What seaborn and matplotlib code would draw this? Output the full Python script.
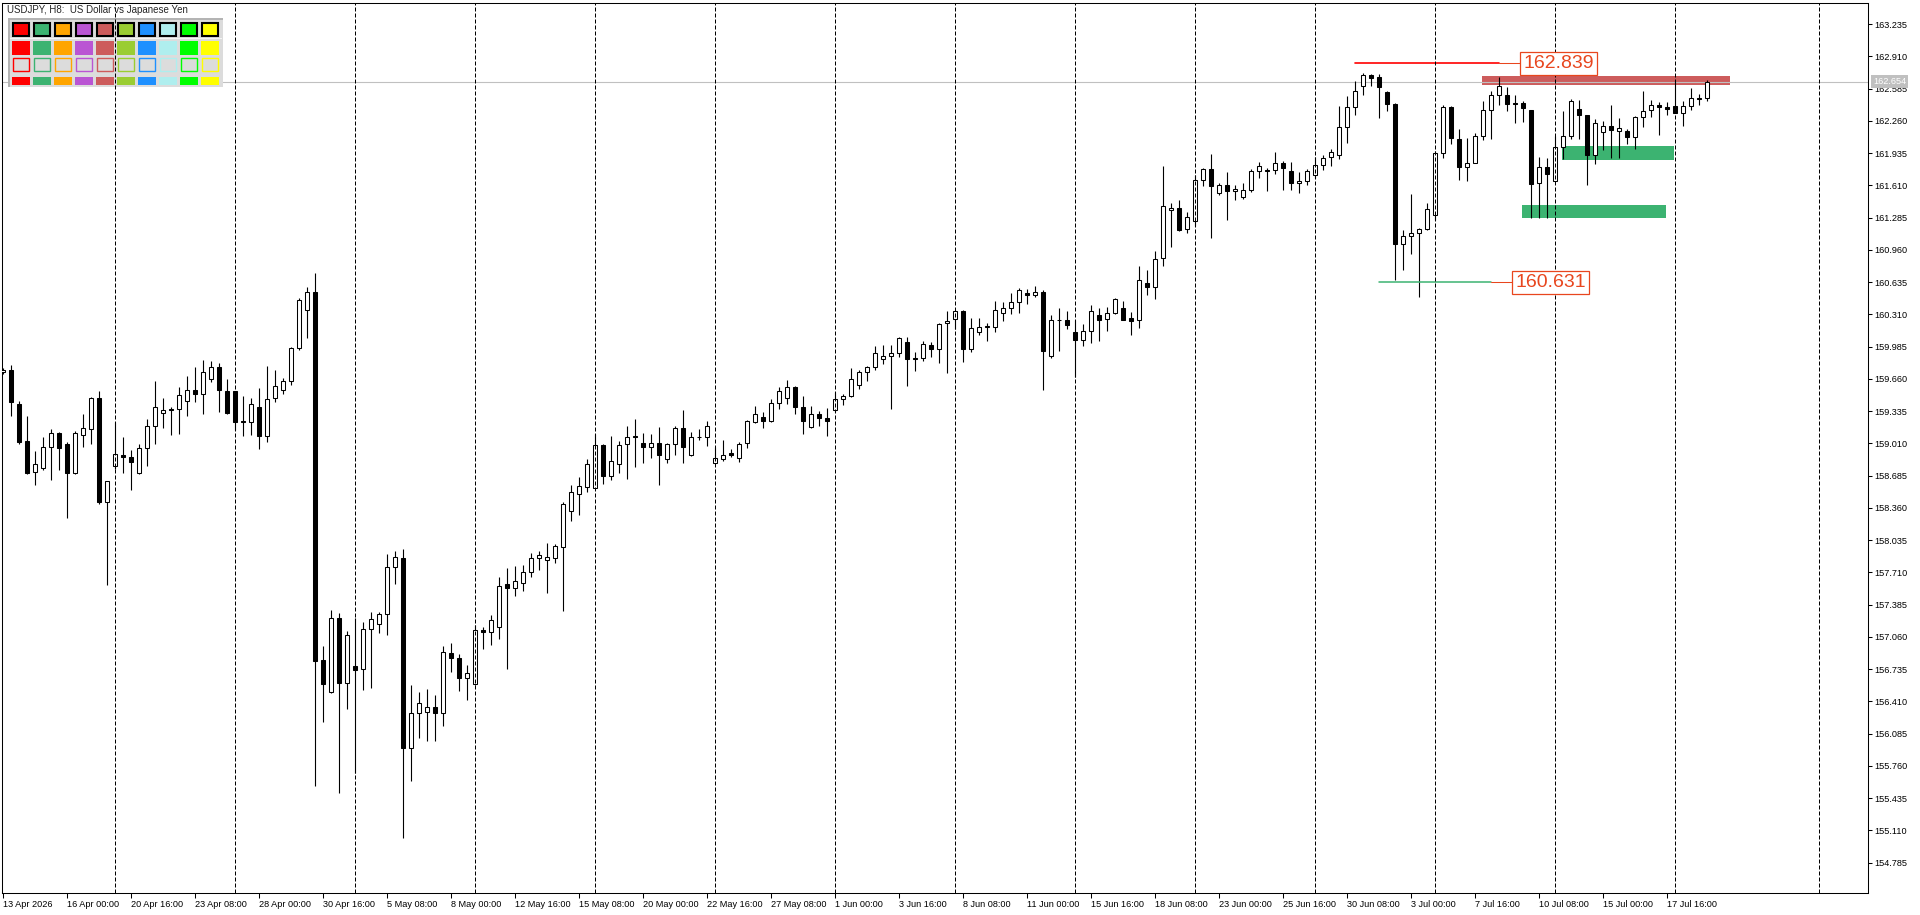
import numpy as np
import pandas as pd
import matplotlib
matplotlib.use("Agg")
import matplotlib.pyplot as plt
import matplotlib.transforms as mtransforms
from matplotlib.patches import Rectangle
import seaborn as sns

sns.set_theme(style="white")
plt.rcParams['font.family'] = ['Liberation Sans', 'DejaVu Sans']

# USDJPY H8 candles (bar 0 = 13 Apr 2026 08:00)
open_ = [159.730, 159.748, 159.404, 159.033, 158.718, 158.766, 158.978, 159.110, 159.000, 158.714,
         159.099, 159.151, 159.462, 158.414, 158.777, 158.890, 158.868, 158.714, 158.960, 159.180,
         159.312, 159.356, 159.352, 159.433, 159.547, 159.503, 159.657, 159.778, 159.536, 159.536,
         159.235, 159.220, 159.374, 159.088, 159.462, 159.543, 159.635, 159.968, 160.353, 160.536,
         156.826, 156.508, 157.247, 156.599, 156.767, 156.733, 157.136, 157.187, 157.287, 157.768,
         157.852, 155.937, 156.289, 156.299, 156.357, 156.289, 156.894, 156.844, 156.642, 156.582,
         157.126, 157.113, 157.163, 157.590, 157.556, 157.600, 157.711, 157.852, 157.832, 157.859,
         157.969, 158.332, 158.504, 158.574, 158.564, 158.991, 158.685, 158.799, 159.001, 159.082,
         159.011, 158.977, 159.011, 158.849, 159.001, 159.162, 158.896, 159.078, 159.071, 158.809,
         158.856, 158.910, 158.866, 159.011, 159.229, 159.273, 159.236, 159.414, 159.464, 159.578,
         159.373, 159.172, 159.303, 159.263, 159.347, 159.454, 159.484, 159.595, 159.726, 159.777,
         159.864, 159.888, 159.918, 160.029, 159.871, 159.867, 159.998, 159.958, 160.220, 160.261,
         160.345, 159.959, 160.127, 160.184, 160.187, 160.328, 160.372, 160.432, 160.527, 160.500,
         160.533, 159.895, 160.248, 160.254, 160.130, 160.049, 160.140, 160.305, 160.261, 160.322,
         160.372, 160.271, 160.251, 160.627, 160.590, 160.876, 161.360, 161.383, 161.168, 161.249,
         161.662, 161.773, 161.528, 161.612, 161.551, 161.491, 161.565, 161.753, 161.766, 161.763,
         161.837, 161.753, 161.629, 161.652, 161.713, 161.810, 161.894, 161.911, 162.197, 162.398,
         162.610, 162.724, 162.701, 162.549, 162.432, 161.017, 161.101, 161.128, 161.172, 161.310,
         161.935, 162.398, 162.076, 161.790, 161.834, 162.103, 162.368, 162.519, 162.519, 162.442,
         162.442, 162.368, 161.632, 161.793, 161.652, 161.995, 162.103, 162.378, 162.318, 161.914,
         162.146, 162.207, 162.156, 162.156, 162.096, 162.294, 162.368, 162.415, 162.401, 162.408,
         162.334, 162.408, 162.492, 162.485]
high = [159.770, 159.796, 159.437, 159.283, 158.934, 159.070, 159.154, 159.121, 159.019, 159.136,
        159.305, 159.481, 159.539, 158.630, 159.224, 159.074, 158.942, 159.000, 159.257, 159.638,
        159.466, 159.378, 159.580, 159.690, 159.781, 159.851, 159.840, 159.822, 159.660, 159.539,
        159.488, 159.466, 159.569, 159.789, 159.748, 159.668, 159.979, 160.470, 160.588, 160.723,
        156.966, 157.331, 157.297, 157.119, 157.247, 157.213, 157.307, 157.307, 157.892, 157.926,
        157.946, 156.575, 156.508, 156.531, 156.474, 156.968, 156.995, 156.884, 156.777, 157.180,
        157.163, 157.277, 157.660, 157.751, 157.775, 157.785, 157.902, 157.926, 158.006, 157.993,
        158.423, 158.588, 158.668, 158.853, 159.102, 159.001, 159.082, 159.038, 159.186, 159.253,
        159.112, 159.105, 159.175, 159.011, 159.185, 159.347, 159.125, 159.152, 159.236, 158.977,
        159.044, 158.953, 159.027, 159.246, 159.387, 159.326, 159.457, 159.578, 159.649, 159.589,
        159.488, 159.387, 159.337, 159.363, 159.525, 159.505, 159.773, 159.750, 159.793, 159.992,
        160.002, 160.002, 160.086, 160.079, 159.931, 160.039, 160.032, 160.224, 160.348, 160.355,
        160.355, 160.271, 160.271, 160.221, 160.446, 160.439, 160.527, 160.580, 160.567, 160.597,
        160.557, 160.305, 160.375, 160.345, 160.254, 160.214, 160.406, 160.372, 160.382, 160.476,
        160.446, 160.335, 160.799, 160.758, 160.950, 161.807, 161.430, 161.464, 161.340, 161.716,
        161.783, 161.928, 161.632, 161.746, 161.615, 161.632, 161.773, 161.847, 161.783, 161.948,
        161.857, 161.841, 161.746, 161.777, 161.894, 161.911, 161.978, 162.412, 162.513, 162.657,
        162.741, 162.734, 162.731, 162.556, 162.439, 161.162, 161.525, 161.179, 161.431, 161.951,
        162.422, 162.405, 162.177, 162.082, 162.136, 162.462, 162.556, 162.701, 162.600, 162.523,
        162.455, 162.371, 161.894, 161.884, 162.109, 162.361, 162.479, 162.472, 162.321, 162.277,
        162.261, 162.418, 162.287, 162.180, 162.304, 162.556, 162.472, 162.452, 162.452, 162.657,
        162.455, 162.590, 162.529, 162.674]
low = [159.710, 159.290, 159.008, 158.696, 158.593, 158.740, 158.645, 158.740, 158.260, 158.696,
       158.978, 159.008, 158.403, 157.585, 158.751, 158.714, 158.542, 158.696, 158.780, 159.008,
       159.165, 159.099, 159.107, 159.290, 159.429, 159.308, 159.631, 159.330, 159.301, 159.143,
       159.088, 159.099, 158.956, 159.026, 159.422, 159.510, 159.602, 159.950, 160.067, 155.562,
       156.203, 156.490, 155.490, 156.333, 155.691, 156.525, 156.548, 157.103, 157.079, 157.593,
       155.029, 155.611, 156.044, 156.014, 156.014, 156.165, 156.709, 156.515, 156.424, 156.575,
       156.938, 156.978, 157.035, 156.740, 157.472, 157.526, 157.667, 157.734, 157.506, 157.808,
       157.324, 158.231, 158.289, 158.524, 158.557, 158.601, 158.641, 158.715, 158.648, 158.776,
       158.816, 158.866, 158.591, 158.809, 158.893, 158.816, 158.886, 159.048, 158.987, 158.802,
       158.836, 158.876, 158.826, 158.964, 159.219, 159.169, 159.229, 159.357, 159.410, 159.310,
       159.108, 159.169, 159.189, 159.088, 159.330, 159.400, 159.481, 159.562, 159.642, 159.750,
       159.814, 159.360, 159.884, 159.592, 159.743, 159.844, 159.884, 159.824, 159.723, 160.166,
       159.834, 159.935, 160.103, 160.046, 160.133, 160.238, 160.318, 160.328, 160.419, 160.480,
       159.549, 159.868, 159.945, 160.160, 159.683, 159.986, 160.026, 160.046, 160.137, 160.318,
       160.248, 160.103, 160.177, 160.506, 160.466, 160.792, 160.984, 161.152, 161.125, 161.195,
       161.608, 161.074, 161.508, 161.256, 161.457, 161.474, 161.545, 161.679, 161.548, 161.719,
       161.558, 161.558, 161.531, 161.615, 161.686, 161.760, 161.800, 161.874, 162.035, 162.314,
       162.523, 162.607, 162.284, 162.355, 160.651, 160.752, 160.917, 160.480, 161.162, 161.263,
       161.884, 162.029, 161.666, 161.649, 161.834, 162.069, 162.076, 162.418, 162.361, 162.237,
       162.244, 161.283, 161.283, 161.279, 161.649, 161.874, 162.076, 162.076, 161.612, 161.827,
       161.962, 161.881, 161.884, 162.022, 161.975, 162.200, 162.294, 162.112, 162.317, 162.334,
       162.203, 162.371, 162.415, 162.455]
close = [159.750, 159.429, 159.026, 158.714, 158.799, 158.978, 159.110, 158.960, 158.714, 159.110,
         159.162, 159.462, 158.414, 158.626, 158.898, 158.868, 158.824, 158.960, 159.180, 159.374,
         159.345, 159.341, 159.495, 159.547, 159.503, 159.726, 159.778, 159.547, 159.319, 159.228,
         159.224, 159.404, 159.088, 159.455, 159.591, 159.635, 159.972, 160.456, 160.533, 156.819,
         156.583, 157.247, 156.599, 157.076, 156.730, 157.136, 157.237, 157.287, 157.768, 157.869,
         155.937, 156.289, 156.390, 156.357, 156.289, 156.904, 156.851, 156.642, 156.693, 157.126,
         157.113, 157.227, 157.576, 157.549, 157.620, 157.711, 157.852, 157.882, 157.862, 157.973,
         158.396, 158.517, 158.578, 158.799, 158.991, 158.685, 158.830, 158.991, 159.071, 159.071,
         158.977, 159.011, 158.896, 159.001, 159.162, 158.977, 159.071, 159.071, 159.182, 158.859,
         158.896, 158.896, 159.001, 159.236, 159.303, 159.239, 159.414, 159.535, 159.578, 159.373,
         159.239, 159.303, 159.263, 159.232, 159.454, 159.484, 159.656, 159.726, 159.777, 159.918,
         159.891, 159.918, 160.069, 159.864, 159.864, 160.009, 159.958, 160.210, 160.244, 160.345,
         159.958, 160.170, 160.187, 160.194, 160.352, 160.372, 160.432, 160.553, 160.500, 160.533,
         159.945, 160.251, 160.254, 160.207, 160.049, 160.144, 160.342, 160.248, 160.322, 160.463,
         160.254, 160.238, 160.654, 160.590, 160.866, 161.400, 161.383, 161.162, 161.289, 161.662,
         161.773, 161.598, 161.612, 161.548, 161.575, 161.561, 161.756, 161.803, 161.756, 161.837,
         161.783, 161.629, 161.656, 161.757, 161.814, 161.888, 161.945, 162.197, 162.398, 162.560,
         162.717, 162.691, 162.597, 162.429, 161.021, 161.098, 161.128, 161.169, 161.370, 161.935,
         162.398, 162.086, 161.790, 161.834, 162.103, 162.368, 162.519, 162.607, 162.429, 162.429,
         162.388, 161.619, 161.793, 161.723, 161.995, 162.103, 162.459, 162.318, 161.914, 162.237,
         162.207, 162.170, 162.190, 162.096, 162.294, 162.361, 162.418, 162.401, 162.381, 162.334,
         162.408, 162.489, 162.479, 162.654]

x_labels = ['13 Apr 2026', '16 Apr 00:00', '20 Apr 16:00', '23 Apr 08:00', '28 Apr 00:00',
            '30 Apr 16:00', '5 May 08:00', '8 May 00:00', '12 May 16:00', '15 May 08:00',
            '20 May 00:00', '22 May 16:00', '27 May 08:00', '1 Jun 00:00', '3 Jun 16:00',
            '8 Jun 08:00', '11 Jun 00:00', '15 Jun 16:00', '18 Jun 08:00', '23 Jun 00:00',
            '25 Jun 16:00', '30 Jun 08:00', '3 Jul 00:00', '7 Jul 16:00', '10 Jul 08:00',
            '15 Jul 00:00', '17 Jul 16:00']
y_ticks = [163.235 - 0.325 * k for k in range(27)]

last_price = 162.654
high_level = 162.839
low_level = 160.631

# supply / demand boxes: (bar start, bar end, price low, price high)
red_zone = (184.9, 215.9, 162.624, 162.715)
green_zones = [(194.9, 208.9, 161.864, 162.008),
               (189.9, 207.9, 161.285, 161.414)]

palette = ['#FF0000', '#3CB371', '#FFA500', '#BA55D3', '#CD5C5C',
           '#9ACD32', '#1E90FF', '#AFEEEE', '#00FF00', '#FFFF00']

df = pd.DataFrame({'open': open_, 'high': high, 'low': low, 'close': close})
df['bar'] = np.arange(len(df))
df['up'] = df['close'] >= df['open']

W, H = 1920, 915
fig = plt.figure(figsize=(W / 100, H / 100), dpi=100)
fig.patch.set_facecolor('white')
ax = fig.add_axes([2.3 / W, 22 / H, 1865.7 / W, 890.3 / H])
ax.set_facecolor('white')
ax.grid(False)

# zones
ax.fill_between([red_zone[0], red_zone[1]], red_zone[2], red_zone[3], color='#CD5C5C', lw=0, zorder=1)
for z in green_zones:
    ax.fill_between([z[0], z[1]], z[2], z[3], color='#3CB371', lw=0, zorder=1)

ax.axhline(last_price, color='#C0C0C0', lw=0.8, zorder=1.5)

# candles
ax.vlines(df['bar'], df['low'], df['high'], color='black', lw=0.8, zorder=2.5)
ax.bar(df['bar'], df['close'] - df['open'], bottom=df['open'], width=0.5,
       color=np.where(df['up'], 'white', 'black'), edgecolor='black', linewidth=0.75, zorder=3)

# high / low level lines with their labels
lab_col = '#E8461E'
sns.lineplot(x=[169, 187], y=[high_level, high_level], ax=ax, color='#FF0000', lw=1.2, zorder=4)
sns.lineplot(x=[172, 186], y=[low_level, low_level], ax=ax, color='#3CB371', lw=1.1, zorder=4)
ax.plot([187, 189.8], [high_level, high_level], color=lab_col, lw=0.75, zorder=4)
ax.plot([186, 188.8], [low_level, low_level], color=lab_col, lw=0.75, zorder=4)
box = dict(boxstyle='square,pad=0.15', fc='white', ec=lab_col, lw=0.9)
ax.text(190.1, high_level, f'{high_level:.3f}', color=lab_col, fontsize=14, ha='left', va='center',
        bbox=box, zorder=6)
ax.text(189.1, low_level, f'{low_level:.3f}', color=lab_col, fontsize=14, ha='left', va='center',
        bbox=box, zorder=6)

# dashed vertical grid
grid_x = list(np.arange(14, 210, 15)) + [227]
for gx in grid_x:
    ax.axvline(gx, color='black', lw=0.72, ls=(0, (4, 2)), zorder=5)

ax.set_xlim(-0.03, 233.18)
ax.set_ylim(154.479, 163.450)

ax.set_xticks(np.arange(0, 8 * len(x_labels), 8))
ax.set_xticklabels(x_labels, ha='left', fontsize=6.6)
ax.yaxis.tick_right()
ax.set_yticks(y_ticks)
ax.set_yticklabels([f'{v:.3f}' for v in y_ticks], fontsize=6.6)
ax.tick_params(axis='x', direction='out', length=3.6, width=0.75, pad=1.5, colors='black', bottom=True)
ax.tick_params(axis='y', direction='out', length=3, width=0.75, pad=1.5, colors='black', right=True, left=False)
for s in ax.spines.values():
    s.set_visible(True)
    s.set_color('black')
    s.set_linewidth(0.75)

# current price tag on the price scale
trans = mtransforms.blended_transform_factory(ax.transAxes, ax.transData)
ax.text(1.0027, last_price, f'{last_price:.3f}', transform=trans, color='white', fontsize=6.6,
        ha='left', va='center', bbox=dict(boxstyle='square,pad=0.25', fc='#C0C0C0', ec='none'),
        zorder=7, clip_on=False)

# colour palette panel, top left (pixel coordinates, y downwards)
pix = mtransforms.Affine2D().scale(1, -1).translate(0, H)
def px_rect(x, y, w, h, **kw):
    r = Rectangle((x, y), w, h, transform=pix, **kw)
    ax.add_patch(r)

px_rect(8, 18, 215, 69, fc='#DCDCDC', ec='none', zorder=4.2)
px_rect(8, 18, 215, 2, fc='#B4B4B4', ec='none', zorder=4.3)
px_rect(8, 18, 2, 69, fc='#B4B4B4', ec='none', zorder=4.3)
px_rect(10, 38, 212, 1, fc='#F4F4F4', ec='none', zorder=4.3)
for i, c in enumerate(palette):
    x0 = 12 + 21 * i
    px_rect(x0 + 0.7, 22.7, 16.6, 13.4, fc=c, ec='black', lw=1.5, zorder=4.4)
    px_rect(x0, 40.7, 18, 14.3, fc=c, ec='none', zorder=4.4)
    px_rect(x0 + 0.7, 58.3, 16.6, 13, fc='#DCDCDC', ec=c, lw=1.0, zorder=4.4)
    px_rect(x0, 76.7, 18, 8.3, fc=c, ec='none', zorder=4.4)

fig.text(7 / W, 1 - 10 / H, 'USDJPY, H8:  US Dollar vs Japanese Yen', fontsize=7, ha='left', va='center')

fig.savefig('out.png', dpi=100, facecolor='white')
